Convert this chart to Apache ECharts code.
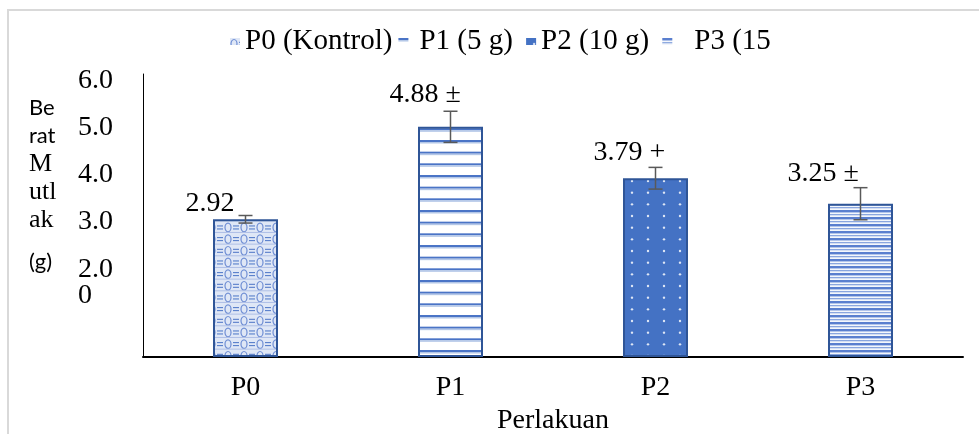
<!DOCTYPE html>
<html>
<head>
<meta charset="utf-8">
<script src="https://cdn.jsdelivr.net/npm/echarts@6/dist/echarts.min.js"></script>
<style>
html,body{margin:0;padding:0;background:#fff;}
#chart{width:979px;height:434px;}
</style>
</head>
<body>
<div id="chart"></div>
<script>
// ---- data ----
const categories = ['P0', 'P1', 'P2', 'P3'];
const seriesNames = ['P0 (Kontrol)', 'P1 (5 g)', 'P2 (10 g)', 'P3 (15'];
const means = [2.92, 4.88, 3.79, 3.25];
const errors = [0.08, 0.33, 0.23, 0.34];
const labelTexts = ['2.92', '4.88 \u00b1', '3.79 +', '3.25 \u00b1'];
const yTickValues = [6, 5, 4, 3, 2];
const yTickTexts = ['6.0', '5.0', '4.0', '3.0', '2.0\n0'];
const xAxisTitle = 'Perlakuan';
const yAxisTitleLines = [['s', 'Be'], ['s', 'rat'], ['t', 'M'], ['t', 'utl'], ['t', 'ak'], ['g', '(g)']];

// ---- styles ----
const SERIF = '"Liberation Serif", "Times New Roman", serif';
const SANS = 'Lato, "Open Sans", sans-serif';
const labelOffsetX = [-60, -61, -62, -73];
const labelDistance = [2, 18, 12, 16];
// extra blank space [before, after] each legend text
const legendSpace = [[0, 0], [6, 4], [0, 10], [17, 0]];

function tile(w, h, draw) {
  const c = document.createElement('canvas');
  c.width = w; c.height = h;
  const ctx = c.getContext('2d');
  draw(ctx, w, h);
  return c;
}
const pat0 = tile(16, 35, (ctx, w, h) => {
  ctx.fillStyle = '#dfe7f6'; ctx.fillRect(0, 0, w, h);
  for (let k = 0; k < 3; k++) {
    const y = k * 35 / 3 + 5.8;
    ctx.strokeStyle = '#6f8ed4'; ctx.lineWidth = 1.2;
    ctx.beginPath(); ctx.ellipse(4, y, 3, 4.3, 0, 0, Math.PI * 2); ctx.stroke();
    ctx.strokeStyle = '#4a74c6'; ctx.lineWidth = 1;
    ctx.beginPath(); ctx.moveTo(9, y - 1.5); ctx.lineTo(15, y - 1.5); ctx.stroke();
    ctx.beginPath(); ctx.moveTo(9, y + 1.5); ctx.lineTo(15, y + 1.5); ctx.stroke();
    ctx.strokeStyle = '#aebfe6';
    ctx.beginPath(); ctx.moveTo(0, y + 5); ctx.lineTo(w, y + 5); ctx.stroke();
  }
});
const pat1 = tile(10, 35, (ctx, w, h) => {
  ctx.fillStyle = '#ffffff'; ctx.fillRect(0, 0, w, h);
  for (let k = 0; k < 3; k++) {
    const y = k * 35 / 3;
    ctx.fillStyle = '#4a74c6'; ctx.fillRect(0, y, w, 2);
    ctx.fillStyle = '#b4c7e7'; ctx.fillRect(0, y + 2, w, 1.5);
  }
});
const pat2 = tile(16, 35, (ctx, w, h) => {
  ctx.fillStyle = '#4472c4'; ctx.fillRect(0, 0, w, h);
  ctx.fillStyle = '#dfe7f5';
  for (let k = 0; k < 3; k++) {
    const y = k * 35 / 3 + 6;
    ctx.beginPath(); ctx.arc(8, y, 1.2, 0, Math.PI * 2); ctx.fill();
  }
});
const pat3 = tile(10, 7, (ctx, w, h) => {
  ctx.fillStyle = '#f4f7fc'; ctx.fillRect(0, 0, w, h);
  ctx.fillStyle = '#5a7fcf'; ctx.fillRect(0, 0, w, 2);
  ctx.fillStyle = '#b3c5ea'; ctx.fillRect(0, 2, w, 1);
  ctx.fillStyle = '#8aa6df'; ctx.fillRect(0, 4, w, 1);
  ctx.fillStyle = '#d5dff3'; ctx.fillRect(0, 5, w, 1);
});
const patterns = [pat0, pat1, pat2, pat3];

const chart = echarts.init(document.getElementById('chart'), null, { renderer: 'canvas' });

const barSeries = seriesNames.map((name, i) => ({
  name: name,
  type: 'bar',
  barWidth: 65,
  barGap: '-100%',
  data: categories.map((c, j) => (j === i ? means[i] : '-')),
  itemStyle: {
    color: { image: patterns[i], repeat: 'repeat' },
    borderColor: '#2f5597',
    borderWidth: 2
  },
  label: {
    show: true,
    position: 'top',
    distance: labelDistance[i],
    align: 'left',
    offset: [labelOffsetX[i], 0],
    formatter: () => labelTexts[i],
    fontFamily: SERIF,
    fontSize: 28,
    color: '#000'
  },
  emphasis: { disabled: true },
  z: 2
}));

const errorSeries = {
  type: 'custom',
  name: 'err',
  data: means.map((m, i) => [i, m - errors[i], m + errors[i]]),
  renderItem: function (params, api) {
    const lo = api.coord([api.value(0), api.value(1)]);
    const hi = api.coord([api.value(0), api.value(2)]);
    const hw = 7;
    const st = { stroke: '#595959', lineWidth: 1.5 };
    return {
      type: 'group',
      children: [
        { type: 'line', shape: { x1: hi[0], y1: hi[1], x2: lo[0], y2: lo[1] }, style: st },
        { type: 'line', shape: { x1: hi[0] - hw, y1: hi[1], x2: hi[0] + hw, y2: hi[1] }, style: st },
        { type: 'line', shape: { x1: lo[0] - hw, y1: lo[1], x2: lo[0] + hw, y2: lo[1] }, style: st }
      ]
    };
  },
  z: 5,
  silent: true
};

const yNameRich = yAxisTitleLines.map(p => '{' + p[0] + '|' + p[1] + '}').join('\n');

const legendRich = { t: { fontFamily: SERIF, fontSize: 29, color: '#000' } };
legendSpace.forEach((sp, i) => {
  if (sp[0] > 0) legendRich['l' + i] = { width: sp[0], fontSize: 29 };
  if (sp[1] > 0) legendRich['r' + i] = { width: sp[1], fontSize: 29 };
});

const option = {
  animation: false,
  backgroundColor: '#fff',
  graphic: [{
    type: 'rect',
    shape: { x: 8, y: 10, width: 1000, height: 500 },
    style: { fill: 'none', stroke: '#d9d9d9', lineWidth: 2 },
    silent: true,
    z: -10
  }],
  legend: {
    data: seriesNames,
    left: 230,
    top: 27,
    padding: 0,
    itemWidth: 10,
    itemHeight: 7,
    itemGap: 6,
    icon: 'rect',
    itemStyle: { borderWidth: 0 },
    formatter: function (name) {
      const i = seriesNames.indexOf(name);
      const sp = legendSpace[i];
      return (sp[0] > 0 ? '{l' + i + '| }' : '') + '{t|' + name + '}' + (sp[1] > 0 ? '{r' + i + '| }' : '');
    },
    textStyle: { fontFamily: SERIF, fontSize: 29, color: '#000', rich: legendRich }
  },
  grid: { left: 143, right: 16, top: 74, bottom: 77, outerBoundsMode: 'none', containLabel: false },
  xAxis: {
    type: 'category',
    data: categories,
    axisTick: { show: false },
    axisLine: { show: true, lineStyle: { color: '#000', width: 2 } },
    axisLabel: { fontFamily: SERIF, fontSize: 28, color: '#000', margin: 17 },
    name: xAxisTitle,
    nameLocation: 'middle',
    nameGap: 48,
    nameTextStyle: { fontFamily: SERIF, fontSize: 28, color: '#000' }
  },
  yAxis: {
    type: 'value',
    min: 0,
    max: 6,
    interval: 1,
    splitLine: { show: false },
    axisTick: { show: false },
    axisLine: { show: true, lineStyle: { color: '#000', width: 1 } },
    axisLabel: {
      color: '#000',
      align: 'left',
      margin: 65,
      formatter: function (v) {
        const k = yTickValues.indexOf(v);
        if (k < 0) return '';
        const lines = yTickTexts[k].split('\n');
        const pad = lines.length === 1 ? 'e' : 'f';
        return '{' + pad + '| }\n' + lines.map(l => '{a|' + l + '}').join('\n');
      },
      rich: {
        a: { fontFamily: SERIF, fontSize: 28, color: '#000', lineHeight: 26 },
        e: { fontSize: 1, lineHeight: 13 },
        f: { fontSize: 1, lineHeight: 40 }
      }
    },
    name: yNameRich,
    nameLocation: 'middle',
    nameRotate: 0,
    nameGap: 114,
    nameTextStyle: {
      align: 'left',
      verticalAlign: 'middle',
      padding: [0, 0, 47, 0],
      rich: {
        s: { fontFamily: SANS, fontSize: 22, color: '#000', lineHeight: 28 },
        t: { fontFamily: SERIF, fontSize: 26, color: '#000', lineHeight: 28 },
        g: { fontFamily: SANS, fontSize: 22, color: '#000', lineHeight: 56 }
      }
    }
  },
  series: barSeries.concat([errorSeries])
};
chart.setOption(option);
</script>
</body>
</html>
